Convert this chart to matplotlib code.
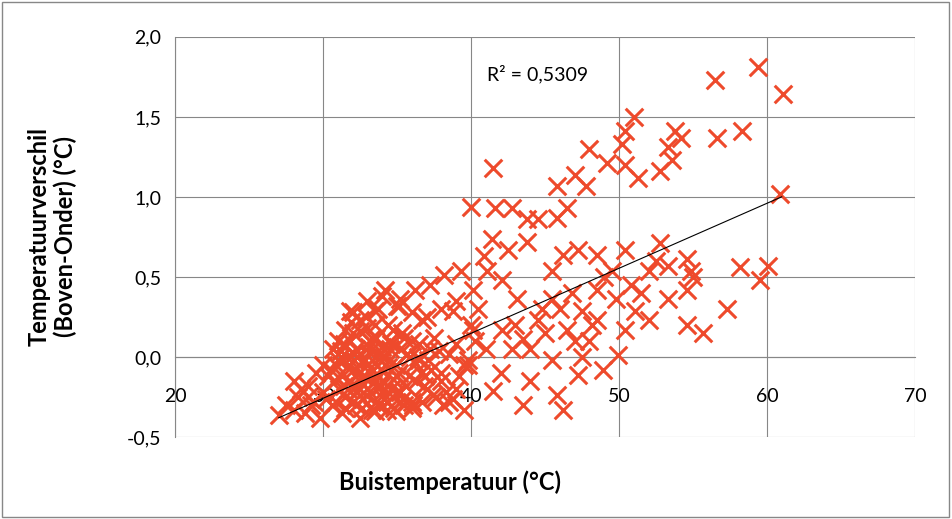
import numpy as np
import matplotlib.pyplot as plt
from matplotlib.ticker import FuncFormatter

plt.rcParams['font.family'] = ['Lato', 'DejaVu Sans']

# scattered points (upper / spread region)
x_spread = [56.5, 59.4, 61.1, 56.6, 58.3, 60.9, 51.0, 50.4, 50.2, 49.2, 50.4, 51.3, 52.8, 53.6,
            54.2, 53.8, 53.3, 48.0, 47.8, 47.0, 46.5, 45.8, 45.8, 41.5, 40.0, 41.6, 42.8, 43.8,
            43.8, 41.4, 40.9, 44.5,
            52.8, 60.1, 58.2, 59.5, 57.3, 55.7, 54.6, 54.9, 54.6, 53.3, 52.0, 50.4, 49.5, 48.5,
            47.2, 46.2, 45.5, 48.5, 49.8, 51.1, 50.4, 48.5, 47.5, 46.5, 45.5, 44.5, 43.1, 42.1,
            42.5, 41.1, 40.1, 39.3, 38.2, 37.2, 36.2, 35.2, 34.2, 33.5, 32.5, 31.5, 31.8, 34.7,
            36.7, 38.8, 40.1, 42.1, 43.5, 45.5, 45.8, 46.2, 47.2, 48.9, 49.9, 43.5, 41.5, 39.5,
            52.0, 53.3, 54.6, 44.0, 46.8, 48.0, 50.8, 52.5, 55.0, 47.5, 44.8, 42.8,
            41.0, 42.0, 43.0, 44.0, 45.0, 40.5, 39.8, 46.0, 47.0, 48.2, 49.0, 51.5]
y_spread = [1.73, 1.81, 1.64, 1.37, 1.41, 1.02, 1.50, 1.41, 1.33, 1.21, 1.20, 1.12, 1.16, 1.23,
            1.37, 1.41, 1.31, 1.30, 1.07, 1.14, 0.93, 1.07, 0.87, 1.18, 0.94, 0.93, 0.93, 0.86,
            0.72, 0.74, 0.63, 0.86,
            0.71, 0.57, 0.56, 0.48, 0.30, 0.15, 0.20, 0.54, 0.42, 0.57, 0.54, 0.67, 0.54, 0.64,
            0.67, 0.64, 0.54, 0.42, 0.36, 0.29, 0.17, 0.23, 0.29, 0.17, 0.36, 0.23, 0.36, 0.48,
            0.67, 0.54, 0.42, 0.54, 0.51, 0.45, 0.42, 0.36, 0.42, 0.29, 0.23, 0.17, 0.29, 0.17,
            0.23, 0.29, 0.17, 0.17, 0.11, -0.02, -0.24, -0.33, -0.11, -0.08, 0.01, -0.30, -0.21, -0.33,
            0.23, 0.36, 0.61, 0.05, 0.40, 0.10, 0.45, 0.60, 0.50, 0.00, 0.30, 0.05,
            0.05, -0.10, 0.20, -0.15, 0.15, 0.30, -0.05, 0.30, 0.10, 0.20, 0.50, 0.40]

# dense cluster near 28-40 degC
x_dense = [27.0, 27.5, 28.0, 28.3, 28.8, 29.0, 29.4, 29.8, 30.0, 30.3, 30.6, 30.9, 31.1, 31.3,
           31.6, 31.8, 32.0, 32.2, 32.4, 32.6, 32.8, 33.0, 33.2, 33.4, 33.6, 33.8, 34.0, 34.3,
           34.6, 34.9, 35.2, 35.5, 35.8, 36.1, 36.4, 36.8, 37.2, 37.6, 38.0, 38.5, 39.0, 39.5,
           30.5, 31.0, 31.5, 32.0, 32.5, 33.0, 33.5, 34.0, 34.5, 35.0, 35.5, 36.0, 36.5, 37.0,
           37.5, 38.0, 38.5, 39.0, 29.5, 30.2, 31.2, 32.3, 33.3, 34.2, 35.3, 36.3, 37.3, 38.3,
           31.4, 32.1, 32.7, 33.1, 33.9, 34.7, 35.7, 36.6, 31.9, 32.9, 33.7, 34.4, 35.1, 28.5,
           29.2, 30.8, 32.5, 33.5, 34.8, 36.0,
           31.0, 31.3, 31.7, 32.0, 32.3, 32.6, 32.9, 33.2, 33.5, 33.8, 34.1, 34.4, 34.7, 35.0,
           31.2, 31.6, 32.1, 32.4, 32.8, 33.1, 33.4, 33.9, 34.2, 34.6, 35.1, 35.6, 36.2, 36.9,
           30.9, 31.5, 32.2, 32.7, 33.3, 33.7, 34.3, 34.9, 35.4, 36.0, 36.7, 37.4, 38.1, 38.8,
           31.8, 32.5, 33.0, 33.6, 34.0, 34.5, 35.2, 35.9, 36.5, 37.1, 37.8, 39.2, 39.8, 40.3,
           30.0, 30.7, 31.4, 32.0, 33.0, 34.0, 35.0, 36.0, 37.0, 38.0, 39.0, 40.0, 28.0, 29.0]
y_dense = [-0.36, -0.30, -0.33, -0.25, -0.35, -0.18, -0.28, -0.38, -0.22, -0.12, -0.30, -0.05, -0.20, -0.35,
           0.00, -0.15, -0.28, 0.05, -0.10, -0.32, -0.02, -0.20, 0.10, -0.08, -0.28, 0.02, -0.15, -0.33,
           0.08, -0.05, -0.22, 0.12, -0.12, -0.30, 0.00, -0.18, 0.05, -0.25, -0.10, 0.02, -0.20, -0.05,
           -0.08, 0.10, -0.25, 0.15, -0.15, -0.05, 0.20, -0.22, 0.05, -0.12, -0.30, 0.10, -0.02, -0.20,
           0.12, -0.15, -0.28, 0.08, -0.10, -0.26, 0.00, -0.22, 0.12, -0.05, 0.15, -0.15, -0.08, -0.22,
           -0.18, -0.02, -0.12, 0.03, -0.18, -0.25, 0.02, -0.10, 0.22, 0.25, 0.30, 0.20, 0.32, -0.20,
           -0.30, -0.15, -0.38, -0.34, -0.32, -0.28,
           -0.02, -0.12, -0.20, -0.08, 0.00, -0.16, -0.24, -0.10, -0.04, -0.18, -0.26, -0.06, -0.14, -0.22,
           0.04, -0.06, 0.02, -0.20, -0.12, 0.06, -0.16, -0.08, 0.00, -0.20, -0.10, -0.18, -0.04, -0.12,
           -0.28, -0.32, -0.30, -0.26, -0.33, -0.30, -0.28, -0.34, -0.26, -0.32, -0.28, -0.24, -0.30, -0.26,
           0.10, 0.16, 0.18, 0.12, 0.06, 0.10, 0.05, 0.00, 0.08, -0.02, 0.04, -0.12, -0.02, 0.10,
           -0.05, 0.05, 0.08, 0.28, 0.35, 0.38, 0.32, 0.28, 0.25, 0.30, 0.35, 0.20, -0.15, -0.25]

trend_x = [27.0, 61.0]
slope, intercept = 0.0406, -1.476
r2_text = "R² = 0,5309"

fig = plt.figure(figsize=(9.52, 5.19), dpi=100)
ax = fig.add_axes([0.184, 0.158, 0.777, 0.771])
col = '#EE4A2C'
ax.scatter(x_spread + x_dense, y_spread + y_dense, marker='x', s=160, linewidths=2.2, color=col, zorder=3)
tx = np.array(trend_x)
ax.plot(tx, slope * tx + intercept, color='black', lw=0.8, zorder=4)
ax.text(44.5, 1.77, r2_text, fontsize=14, ha='center', va='center')

ax.set_xlim(20, 70)
ax.set_ylim(-0.5, 2.0)
ax.set_xticks(range(20, 71, 10))
ax.set_yticks(np.arange(-0.5, 2.01, 0.5))
ax.yaxis.set_major_formatter(FuncFormatter(lambda v, p: f"{v:.1f}".replace('.', ',')))
ax.grid(True, color='#878787', lw=0.8)
ax.set_axisbelow(True)
for s in ['top', 'right']:
    ax.spines[s].set_visible(False)
ax.spines['bottom'].set_position(('data', 0))
ax.spines['bottom'].set_color('#878787')
ax.spines['left'].set_color('#878787')
ax.tick_params(axis='both', labelsize=14, length=0)
ax.tick_params(axis='x', pad=22)
ax.tick_params(axis='y', pad=10)

fig.text(0.473, 0.07, "Buistemperatuur (°C)", fontsize=17, fontweight='bold', ha='center', va='center')
fig.text(0.055, 0.545, "Temperatuurverschil\n(Boven-Onder) (°C)", fontsize=17, fontweight='bold',
         ha='center', va='center', rotation=90, linespacing=1.1)
fig.patches.append(plt.Rectangle((0.002, 0.003), 0.995, 0.994, transform=fig.transFigure,
                                 fill=False, edgecolor='#878787', lw=1))
fig.savefig('out.png', dpi=100)
